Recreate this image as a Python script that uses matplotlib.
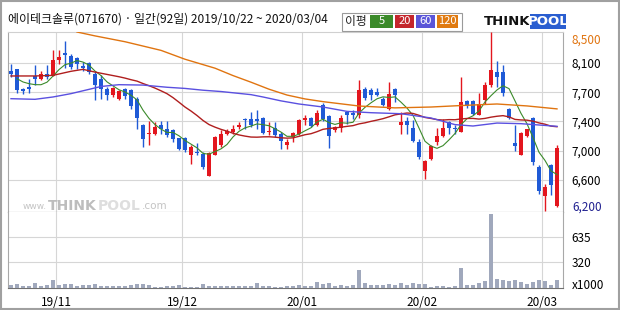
import matplotlib
matplotlib.use('Agg')
import matplotlib.pyplot as plt
from matplotlib.patches import Rectangle
import pandas as pd

plt.rcParams['font.family'] = ['Noto Sans CJK KR', 'DejaVu Sans']

W, H = 620, 310

title = "에이테크솔루(071670) · 일간(92일) 2019/10/22 ~ 2020/03/04"

opens = [7995, 8020, 7772, 7793, 7935, 7892, 7956, 7935, 8136, 8230,
         8192, 8166, 8063, 8106, 7965, 7892, 7763, 7686, 7643, 7763,
         7750, 7643, 7309, 7189, 7194, 7301, 7249, 7237, 7138, 7138,
         6924, 6958, 6937, 6655, 6925, 7044, 7194, 7215, 7279, 7386,
         7386, 7378, 7395, 7215, 7266, 7194, 7044, 7151, 7194, 7365,
         7395, 7301, 7566, 7416, 7236, 7271, 7472, 7459, 7429, 7768,
         7750, 7729, 7643, 7506, 7763, 7301, 7352, 7266, 7087, 6710,
         6864, 7087, 7164, 7344, 7266, 7215, 7609, 7609, 7438, 7622,
         7815, 7986, 7986, 7506, 7074, 6924, 7164, 7395, 6765, 6393,
         6795, 6260]
highs = [8090, 8030, 7780, 7900, 8080, 8005, 8070, 8264, 8264, 8380,
         8220, 8180, 8115, 8115, 7995, 7943, 7793, 7793, 7750, 7780,
         7772, 7665, 7322, 7352, 7344, 7352, 7352, 7258, 7138, 7151,
         7044, 7078, 6958, 6960, 7165, 7237, 7258, 7301, 7344, 7395,
         7472, 7493, 7408, 7344, 7344, 7215, 7121, 7215, 7386, 7438,
         7408, 7493, 7592, 7429, 7290, 7429, 7481, 7493, 7879, 7790,
         7780, 7780, 7665, 7858, 7780, 7472, 7408, 7365, 7121, 6851,
         7044, 7266, 7378, 7352, 7301, 7922, 7622, 7622, 7716, 7858,
         8500, 8123, 8080, 7523, 7301, 7215, 7258, 7408, 6787, 6551,
         6808, 7044]
lows = [7920, 7720, 7708, 7716, 7815, 7880, 7900, 7935, 8093, 8037,
        8030, 8030, 7995, 7965, 7622, 7643, 7622, 7665, 7622, 7643,
        7515, 7250, 7022, 7044, 7172, 7194, 7151, 7087, 6980, 6958,
        6808, 6915, 6744, 6650, 6915, 7022, 7172, 7194, 7258, 7258,
        7279, 7249, 7194, 7172, 7151, 6992, 7001, 7087, 7181, 7301,
        7279, 7292, 7352, 7010, 7220, 7215, 7322, 7386, 7395, 7630,
        7622, 7678, 7549, 7494, 7600, 7194, 7194, 7087, 6872, 6616,
        6851, 7044, 7151, 7194, 7194, 7215, 7523, 7438, 7429, 7579,
        7793, 7793, 7678, 7378, 6967, 6915, 7151, 6787, 6423, 6200,
        6410, 6250]
closes = [7960, 7760, 7742, 7763, 7892, 7956, 7922, 8136, 8179, 8209,
          8050, 8093, 8037, 7986, 7823, 7763, 7686, 7780, 7738, 7678,
          7549, 7395, 7121, 7207, 7279, 7258, 7181, 7121, 6992, 6980,
          7022, 6941, 6765, 6940, 7150, 7194, 7224, 7249, 7301, 7374,
          7309, 7361, 7202, 7232, 7181, 7095, 7087, 7202, 7374, 7395,
          7288, 7459, 7378, 7159, 7279, 7395, 7429, 7438, 7750, 7648,
          7686, 7686, 7566, 7708, 7686, 7344, 7309, 7095, 6894, 6838,
          7035, 7164, 7266, 7266, 7249, 7601, 7549, 7451, 7579, 7823,
          8007, 7917, 7720, 7395, 7035, 7207, 7249, 6830, 6453, 6508,
          6538, 7009]
volumes = [35, 48, 26, 26, 60, 30, 39, 99, 43, 48,
           48, 30, 39, 39, 52, 26, 26, 26, 26, 26,
           39, 48, 48, 39, 13, 13, 22, 22, 35, 17,
           17, 9, 48, 26, 26, 26, 26, 26, 26, 26,
           26, 60, 30, 22, 9, 9, 22, 22, 35, 22,
           26, 73, 56, 65, 30, 39, 30, 39, 220, 65,
           35, 35, 39, 48, 35, 60, 39, 60, 52, 48,
           13, 22, 22, 13, 26, 246, 39, 39, 65, 86,
           930, 117, 104, 91, 99, 78, 52, 78, 95, 86,
           39, 99]

ma5_head_idx = [1, 2, 3]
ma5_head_val = [7900, 7858, 7836]
ma20_head_idx = [0, 4, 7, 10, 12, 14, 16, 18]
ma20_head_val = [7935, 7935, 7943, 7995, 8020, 7985, 7955, 7925]
ma60_idx = [0, 4, 7, 10, 13, 15, 18, 22, 26, 29, 32, 35, 40, 42, 45, 48,
            52, 56, 60, 65, 70, 74, 77, 81, 85, 91]
ma60_val = [7643, 7635, 7665, 7708, 7763, 7800, 7823, 7818, 7790, 7775,
            7752, 7735, 7695, 7665, 7615, 7575, 7536, 7480, 7463, 7450,
            7395, 7310, 7292, 7330, 7322, 7288]
ma120_idx = [11, 14, 19, 25, 29, 34, 37, 40, 43, 46, 49, 52, 58, 64, 70,
             75, 81, 86, 91]
ma120_val = [8500, 8450, 8375, 8264, 8150, 8035, 7940, 7855, 7765, 7690,
             7640, 7605, 7549, 7525, 7536, 7555, 7575, 7550, 7512]

month_pos = [7.5, 28.5, 48.5, 68.5, 88.5]
month_labels = ['19/11', '19/12', '20/01', '20/02', '20/03']
price_grid = [8100, 7725, 7350, 6975, 6600]
price_labels = ['8,100', '7,700', '7,400', '7,000', '6,600']
price_max_label, price_min_label = '8,500', '6,200'
vol_ticks = [320, 635]
vol_labels = ['320', '635']
legend_labels = ['5', '20', '60', '120']

RED = '#e3161e'
BLUE = '#1f5ad6'
C_MA5 = '#3b8a2a'
C_MA20 = '#b01e1e'
C_MA60 = '#5a50e0'
C_MA120 = '#e07410'
GRID = '#d6d6d6'


def fx(x):
    return x / W


def fy(y):
    return 1 - y / H


fig = plt.figure(figsize=(6.2, 3.1), dpi=100)
fig.patch.set_facecolor('white')

ax = fig.add_axes([fx(8), fy(212), 555 / W, 180 / H])
axv = fig.add_axes([fx(8), fy(288), 555 / W, 76 / H])

n = len(closes)
xs = list(range(n))

# candles
for i in xs:
    o, h, l, c = opens[i], highs[i], lows[i], closes[i]
    col = RED if c >= o else BLUE
    ax.vlines(i, l, h, color=col, linewidth=1.0, zorder=3)
    body = max(abs(c - o), 10)
    ax.bar(i, body, bottom=min(o, c), width=0.8, color=col, linewidth=0, zorder=4)

# moving averages
cs = pd.Series(closes, dtype=float)
ma5 = cs.rolling(5).mean()
ma20 = cs.rolling(20).mean()
ax.plot(ma5_head_idx + xs[4:], ma5_head_val + list(ma5[4:]), color=C_MA5, lw=0.8, zorder=5)
ax.plot(ma20_head_idx + xs[19:], ma20_head_val + list(ma20[19:]), color=C_MA20, lw=1.0, zorder=5)
ax.plot(ma60_idx, ma60_val, color=C_MA60, lw=1.0, zorder=5)
ax.plot(ma120_idx, ma120_val, color=C_MA120, lw=1.0, zorder=5)

ax.set_xlim(-0.5, 92)
ax.set_ylim(6187, 8500)
ax.set_xticks(month_pos)
ax.set_xticklabels([])
ax.set_yticks(price_grid)
ax.set_yticklabels(price_labels)
ax.yaxis.tick_right()
ax.tick_params(axis='both', length=0, labelsize=8.5, pad=6)
ax.grid(True, color=GRID, lw=0.8, zorder=0)
ax.set_axisbelow(True)
for s in ['left', 'right', 'top']:
    ax.spines[s].set_color('#a8a8a8')
ax.spines['top'].set_color('#d0d0d0')
ax.spines['bottom'].set_color('#606060')

ax.text(1.0 + 9 / 555, 8500 - 8 * 12.85, price_max_label, transform=ax.get_yaxis_transform(),
        color='#e07410', fontsize=8.5, va='center', ha='left')
ax.text(1.0 + 9 / 555, 6200 + 4 * 12.85, price_min_label, transform=ax.get_yaxis_transform(),
        color='#202090', fontsize=8.5, va='center', ha='left')

# watermark
fig.text(fx(23), fy(209), 'www.', fontsize=6.5, color='#c4c4c4', ha='left', va='baseline',
         family='DejaVu Sans')
fig.text(fx(48), fy(209.5), 'THINK', fontsize=10, color='#bdbdbd', ha='left', va='baseline',
         family='DejaVu Sans', fontweight='bold')
fig.text(fx(98), fy(209.5), 'POOL', fontsize=10, color='#dedede', ha='left', va='baseline',
         family='DejaVu Sans', fontweight='bold')
fig.text(fx(142), fy(209), '.com', fontsize=7.5, color='#c4c4c4', ha='left', va='baseline',
         family='DejaVu Sans')

# volume
axv.bar(xs, volumes, width=0.75, color='#a0a8bc', linewidth=0, zorder=3)
axv.set_xlim(-0.5, 92)
axv.set_ylim(0, 950)
axv.set_xticks(month_pos)
axv.set_xticklabels(month_labels)
axv.set_yticks(vol_ticks)
axv.set_yticklabels(vol_labels)
axv.yaxis.tick_right()
axv.tick_params(axis='both', length=0, labelsize=8.5, pad=6)
axv.grid(True, color=GRID, lw=0.8, zorder=0)
axv.set_axisbelow(True)
for s in ['left', 'right']:
    axv.spines[s].set_color('#a8a8a8')
axv.spines['top'].set_visible(False)
axv.spines['bottom'].set_color('#707070')
axv.text(1.0 + 9 / 555, 0.03, 'x1000', transform=axv.transAxes, fontsize=8.5,
         va='center', ha='left')

# title
fig.text(fx(8), fy(19), title, fontsize=8.6, ha='left', va='center', color='#111111')

# legend box
fig.add_artist(Rectangle((fx(342), fy(31)), 120 / W, 18 / H, transform=fig.transFigure,
                         facecolor='white', edgecolor='#9a9a9a', lw=0.8))
fig.text(fx(356), fy(21.5), '이평', fontsize=8.5, ha='center', va='center', color='#222222')
leg_x = [(370, 393), (395, 414), (416, 435), (437, 458)]
leg_c = [C_MA5, '#c4262c', '#5a55d8', '#e07a10']
for (x0, x1), col, lab in zip(leg_x, leg_c, legend_labels):
    fig.add_artist(Rectangle((fx(x0), fy(28)), (x1 - x0) / W, 13 / H, transform=fig.transFigure,
                             facecolor=col, edgecolor='none'))
    fig.text(fx((x0 + x1) / 2), fy(21.5), lab, fontsize=8, ha='center', va='center', color='white')

# logo
fig.text(fx(484), fy(21.5), 'THINK', fontsize=9.5, fontweight='bold', color='#111111',
         ha='left', va='center', family='DejaVu Sans')
fig.add_artist(Rectangle((fx(530), fy(29)), 36 / W, 15 / H, transform=fig.transFigure,
                         facecolor='#2a5ed0', edgecolor='none'))
fig.text(fx(548), fy(21.5), 'POOL', fontsize=9.5, fontweight='bold', color='white',
         ha='center', va='center', family='DejaVu Sans')

# outer frame
fig.add_artist(Rectangle((0.002, 0.004), 0.996, 0.992, transform=fig.transFigure,
                         facecolor='none', edgecolor='#a0a0a0', lw=1.5))

fig.savefig('out.png', dpi=100)
